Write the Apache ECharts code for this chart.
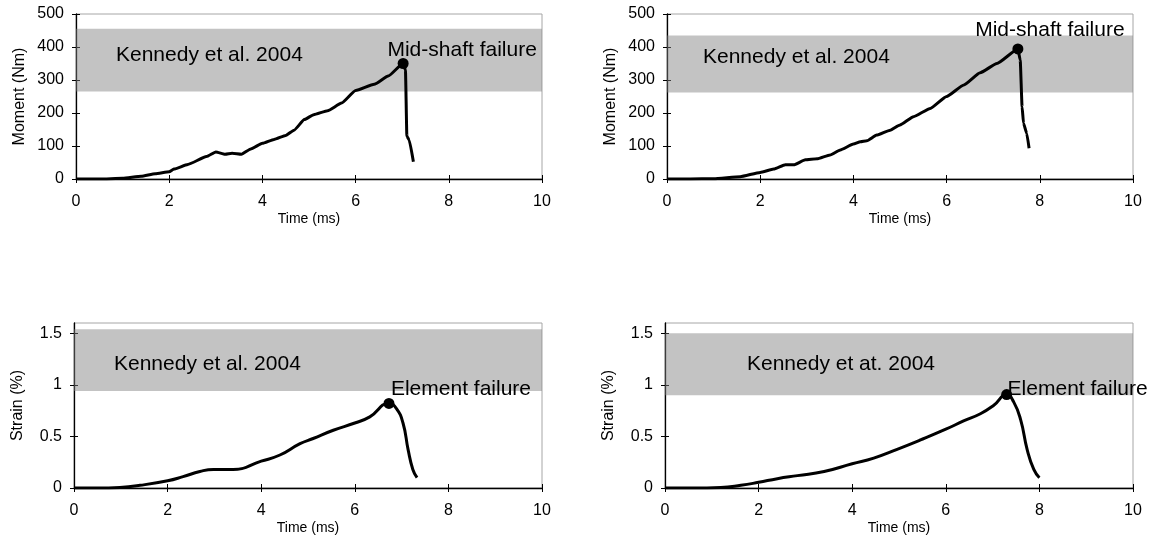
<!DOCTYPE html>
<html><head><meta charset="utf-8">
<script src="https://cdn.jsdelivr.net/npm/echarts@6/dist/echarts.min.js"></script>
<style>html,body{margin:0;padding:0;background:#fff}#c{width:1156px;height:542px}</style>
</head><body><div id="c"></div>
<script>
// ---------- data ----------
const time1   = [0, 0.5, 1.0, 1.4, 1.7, 2.0, 2.1, 2.4, 2.8, 3.0, 3.2, 3.35, 3.55, 3.75, 4.0, 4.25, 4.5, 4.68, 4.9, 5.1, 5.4, 5.7, 6.0, 6.4, 6.7, 7.02, 7.07, 7.10, 7.15, 7.24];
const moment1 = [0, 0, 2, 8, 16, 22, 30, 44, 68, 82, 75, 78, 75, 91, 108, 120, 132, 148, 180, 195, 207, 230, 268, 287, 312, 350, 330, 130, 118, 52];

const time2   = [0, 0.5, 1.0, 1.57, 2.0, 2.29, 2.54, 2.72, 2.97, 3.22, 3.5, 3.72, 4.0, 4.15, 4.29, 4.5, 4.79, 5.0, 5.29, 5.65, 6.0, 6.37, 6.72, 7.08, 7.53, 7.58, 7.62, 7.65, 7.72, 7.77];
const moment2 = [0, 0, 1, 7, 20, 30, 43, 43, 58, 61, 73, 88, 106, 113, 116, 133, 148, 164, 189, 214, 250, 285, 322, 350, 394, 360, 219, 169, 138, 93];

const time3   = [0, 0.5, 0.98, 1.41, 2.0, 2.33, 2.69, 2.98, 3.4, 4.0, 4.4, 4.83, 5.11, 5.54, 6.0, 6.32, 6.73, 6.89, 7.03, 7.14, 7.24, 7.33];
const strain3 = [0, 0, 0.006, 0.026, 0.07, 0.11, 0.16, 0.18, 0.18, 0.26, 0.32, 0.43, 0.48, 0.56, 0.63, 0.69, 0.82, 0.77, 0.63, 0.37, 0.18, 0.10];

const time4   = [0, 0.6, 1.19, 1.62, 2.0, 2.4, 2.83, 3.4, 4.0, 4.46, 4.96, 5.46, 6.0, 6.38, 6.74, 7.02, 7.3, 7.45, 7.6, 7.74, 7.88, 8.0];
const strain4 = [0, 0, 0.005, 0.026, 0.055, 0.09, 0.12, 0.16, 0.235, 0.29, 0.375, 0.466, 0.57, 0.65, 0.72, 0.80, 0.906, 0.835, 0.66, 0.37, 0.18, 0.10];

const seriesTimes  = [time1, time2, time3, time4];
const seriesValues = [moment1, moment2, strain3, strain4];

const peakTimes  = [7.02, 7.53, 6.73, 7.30];
const peakValues = [350, 394, 0.82, 0.906];
const peakLabels = ['Mid-shaft failure', 'Mid-shaft failure', 'Element failure', 'Element failure'];

const bandLow    = [265, 262, 0.94, 0.90];
const bandHigh   = [455, 435, 1.54, 1.50];
const bandLabels = ['Kennedy et al. 2004', 'Kennedy et al. 2004', 'Kennedy et al. 2004', 'Kennedy et at. 2004'];

const xTicks = [0, 2, 4, 6, 8, 10];
const momentTicks = [0, 100, 200, 300, 400, 500];
const strainTicks = [0, 0.5, 1, 1.5];
const yTicks = [momentTicks, momentTicks, strainTicks, strainTicks];
const yMax = [500, 500, 1.6, 1.6];
const yNames = ['Moment (Nm)', 'Moment (Nm)', 'Strain (%)', 'Strain (%)'];
const xName = 'Time (ms)';

// ---------- layout ----------
const FONT = '"Liberation Sans", Arial, sans-serif';
const grids = [
  {left: 76,  top: 14,  width: 466, height: 165},
  {left: 667, top: 14,  width: 466, height: 165},
  {left: 74,  top: 323, width: 468, height: 165},
  {left: 665, top: 323, width: 468, height: 165}
];
const peakOffsets = [[59, -13], [32, -19], [72, -14], [71, -5]];
const bandOffsets = [[35, -5], [31, -7], [35, 4], [77, 0]];

const option = {
  animation: false,
  backgroundColor: '#fff',
  textStyle: {fontFamily: FONT},
  grid: grids.map(g => Object.assign({show: true, borderColor: '#a6a6a6', borderWidth: 1, backgroundColor: 'transparent'}, g)),
  xAxis: [], yAxis: [], series: []
};

for (let i = 0; i < 4; i++) {
  const common = {gridIndex: i, type: 'value', min: 0, max: 10, interval: 2, splitLine: {show: false}};
  option.xAxis.push(Object.assign({}, common, {
    position: 'bottom',
    name: xName, nameLocation: 'middle', nameGap: 33,
    nameTextStyle: {fontSize: 14, color: '#000', fontFamily: FONT},
    axisLine: {show: true, onZero: false, lineStyle: {color: '#000', width: 1.3}},
    axisTick: {show: true, length: 4, lineStyle: {color: '#000'}},
    axisLabel: {fontSize: 16, color: '#000', margin: 15, fontFamily: FONT, customValues: xTicks}
  }));
  option.xAxis.push(Object.assign({}, common, {
    position: 'bottom',
    axisLine: {show: false},
    axisTick: {show: true, inside: true, length: 4, lineStyle: {color: '#000'}},
    axisLabel: {show: false}
  }));
  const ycommon = {gridIndex: i, type: 'value', min: 0, max: yMax[i], splitLine: {show: false}};
  option.yAxis.push(Object.assign({}, ycommon, {
    position: 'left',
    name: yNames[i], nameLocation: 'middle', nameGap: 48,
    nameTextStyle: {fontSize: 16, color: '#000', fontFamily: FONT},
    axisLine: {show: true, onZero: false, lineStyle: {color: '#000', width: 1.3}},
    axisTick: {show: true, length: 4, lineStyle: {color: '#000'}, customValues: yTicks[i]},
    axisLabel: {fontSize: 16, color: '#000', margin: 12, fontFamily: FONT, customValues: yTicks[i]}
  }));
  option.yAxis.push(Object.assign({}, ycommon, {
    position: 'left',
    axisLine: {show: false},
    axisTick: {show: true, inside: true, length: 4, lineStyle: {color: '#000'}, customValues: yTicks[i]},
    axisLabel: {show: false}
  }));

  const data = seriesTimes[i].map((t, k) => [t, seriesValues[i][k]]);
  option.series.push(Object.assign({
    type: 'line', xAxisIndex: 2 * i, yAxisIndex: 2 * i,
    data: data, symbol: 'none', showSymbol: false,
    lineStyle: {color: '#000', width: 3}, z: 2, zlevel: 0, silent: true
  }, i < 2 ? {smooth: 0.15, smoothMonotone: 'x'} : {smooth: 0.5}));
  option.series.push({
    type: 'line', xAxisIndex: 2 * i, yAxisIndex: 2 * i, data: [], z: 3, zlevel: 1, silent: true,
    markArea: {
      silent: true,
      itemStyle: {color: 'rgba(128,128,128,0.47)'},
      label: {show: true, position: 'insideLeft', offset: bandOffsets[i], fontSize: 21, color: '#000', fontFamily: FONT},
      data: [[{name: bandLabels[i], xAxis: 0, yAxis: bandLow[i]}, {xAxis: 10, yAxis: bandHigh[i]}]]
    }
  });
  option.series.push({
    type: 'scatter', xAxisIndex: 2 * i, yAxisIndex: 2 * i, z: 4, zlevel: 2, silent: true,
    data: [[peakTimes[i], peakValues[i]]], symbol: 'circle', symbolSize: 11,
    itemStyle: {color: '#000', opacity: 1},
    label: {show: true, position: 'inside', offset: peakOffsets[i], formatter: peakLabels[i], fontSize: 21, color: '#000', fontFamily: FONT}
  });
}

const chart = echarts.init(document.getElementById('c'), null, {renderer: 'canvas'});
chart.setOption(option);
</script>
</body></html>
